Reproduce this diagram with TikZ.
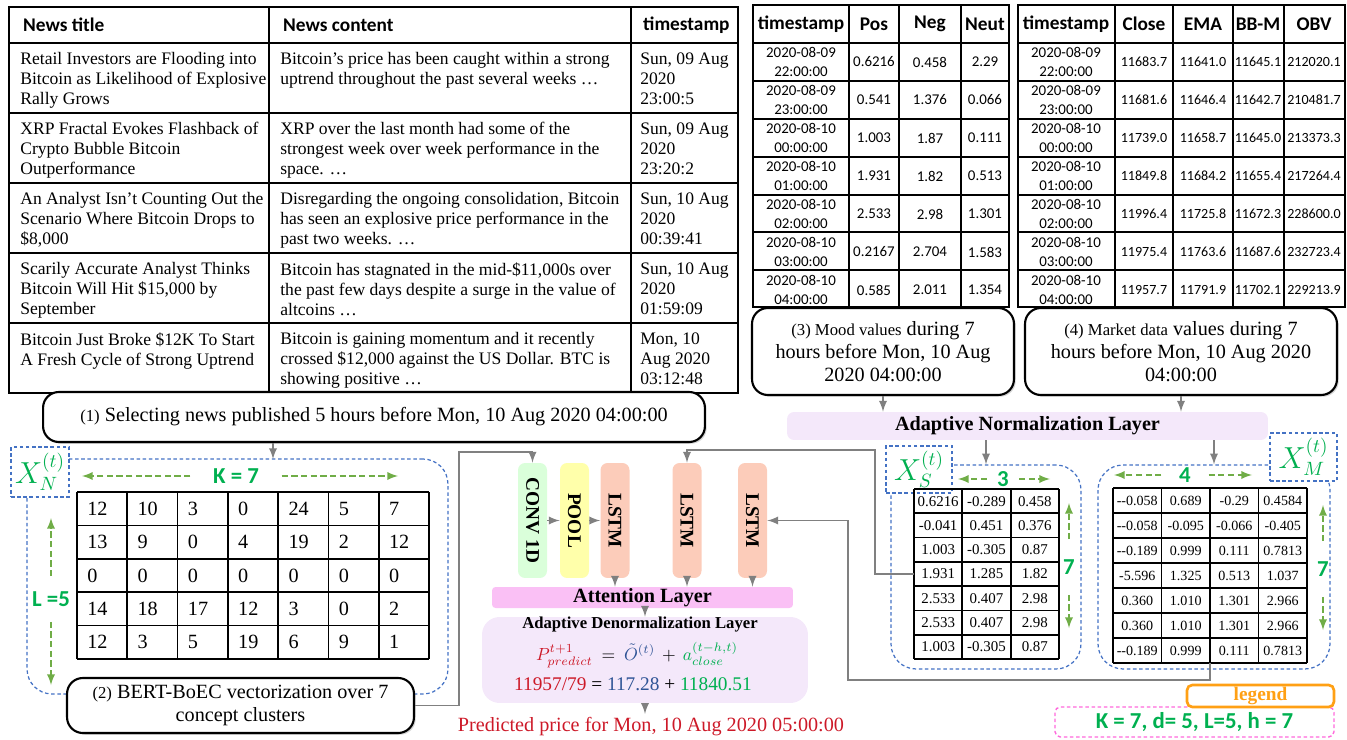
\documentclass[tikz,border=0pt]{standalone}
\usepackage{amsmath}
\usepackage{amssymb}
\usepackage{fontspec}
\setmainfont{Liberation Serif}
\setsansfont{Carlito}
\usepackage{tikz}
\usetikzlibrary{shadows}

\definecolor{gline}{RGB}{128,128,128}
\definecolor{dblue}{RGB}{68,114,196}
\definecolor{kgreen}{RGB}{0,176,80}
\definecolor{agreen}{RGB}{112,173,71}
\definecolor{convc}{RGB}{218,255,218}
\definecolor{poolc}{RGB}{255,255,170}
\definecolor{lstmc}{RGB}{252,204,186}
\definecolor{attc}{RGB}{250,192,245}
\definecolor{normc}{RGB}{244,232,250}
\definecolor{legc}{RGB}{255,160,20}
\definecolor{pinkc}{RGB}{255,105,220}
\definecolor{predred}{RGB}{205,25,40}
\definecolor{oblue}{RGB}{47,84,150}

\newcommand\newsfont{\fontsize{10}{11.4}\selectfont}
\newcommand\hdrfont{\sffamily\bfseries\fontsize{11}{13}\selectfont}
\newcommand\datafont{\sffamily\fontsize{8.5}{10.5}\selectfont}
\newcommand\msgfont{\fontsize{11.5}{13}\selectfont}
\newcommand\smallmsg{\fontsize{9.5}{11}\selectfont}
\newcommand\layerfont{\bfseries\fontsize{11.5}{13}\selectfont}
\newcommand\dimfont{\sffamily\bfseries\fontsize{13}{15}\selectfont}

\tikzset{
  rule/.style={line width=1pt},
  msg/.style={draw, line width=1.2pt, rounded corners=9pt, fill=white, align=center, inner sep=0pt, font=\msgfont,
    drop shadow={shadow xshift=1pt, shadow yshift=-1pt, opacity=0.35}},
  lyr/.style={inner sep=0pt, rounded corners=4pt},
  block/.style={lyr, minimum width=0.58cm, minimum height=2.3cm, font=\bfseries\fontsize{11}{13}\selectfont},
  conn/.style={gline, line width=1.1pt, -latex},
  dimarrow/.style={agreen, dash pattern=on 3.5pt off 2pt, line width=1.1pt, -latex},
  dimlbl/.style={text=kgreen, font=\dimfont, inner sep=0pt},
  region/.style={draw=dblue, dash pattern=on 2pt off 1.5pt, line width=0.7pt, rounded corners=0.5cm, inner sep=0pt},
  tag/.style={draw=dblue, dash pattern=on 2pt off 1.5pt, line width=0.7pt, fill=white, text=kgreen, inner sep=0pt, font=\fontsize{16}{18}\selectfont},
  newsc/.style={anchor=north west, align=left, inner sep=0pt, font=\newsfont},
  datac/.style={align=center, inner sep=0pt, font=\datafont},
  numc/.style={inner sep=0pt, font=\fontsize{8.5}{10}\selectfont},
}

\begin{document}
\begin{tikzpicture}[x=0.02cm, y=-0.02cm]
\useasboundingbox (0,0) rectangle (1347,740);

% news table
\draw[rule] (9,7) rectangle (738,393);
\foreach \y in {43,113,183,253,323} \draw[rule] (9,\y) -- (738,\y);
\foreach \x in {269,631} \draw[rule] (\x,7) -- (\x,393);
\node[anchor=west, font=\hdrfont] (htitle) at (17,25) {News title};
\node[anchor=west, font=\hdrfont] (hcontent) at (277,25) {News content};
\node[anchor=west, font=\hdrfont] (hstamp) at (637,25) {timestamp};
\foreach \y/\ti/\co/\ts [count=\i] in {
  52/{Retail Investors are Flooding into\\Bitcoin as Likelihood of Explosive\\Rally Grows}/{Bitcoin’s price has been caught within a strong\\uptrend throughout the past several weeks …}/{Sun, 09 Aug\\2020\\23:00:5},
  122/{XRP Fractal Evokes Flashback of\\Crypto Bubble Bitcoin\\Outperformance}/{XRP over the last month had some of the\\strongest week over week performance in the\\space. …}/{Sun, 09 Aug\\2020\\23:20:2},
  192/{An Analyst Isn’t Counting Out the\\Scenario Where Bitcoin Drops to\\\$8,000}/{Disregarding the ongoing consolidation, Bitcoin\\has seen an explosive price performance in the\\past two weeks. …}/{Sun, 10 Aug\\2020\\00:39:41},
  262/{Scarily Accurate Analyst Thinks\\Bitcoin Will Hit \$15,000 by\\September}/{Bitcoin has stagnated in the mid-\$11,000s over\\the past few days despite a surge in the value of\\altcoins …}/{Sun, 10 Aug\\2020\\01:59:09},
  332/{Bitcoin Just Broke \$12K To Start\\A Fresh Cycle of Strong Uptrend}/{Bitcoin is gaining momentum and it recently\\crossed \$12,000 against the US Dollar. BTC is\\showing positive …}/{Mon, 10\\Aug 2020\\03:12:48}}{
  \node[newsc] (title\i) at (20,\y) {\ti};
  \node[newsc] (content\i) at (280,\y) {\co};
  \node[newsc] (stamp\i) at (640,\y) {\ts};
}

% mood table
\draw[rule] (753,5) rectangle (1009,307);
\foreach \y in {43,81,119,157,195,232,270} \draw[rule] (753,\y) -- (1009,\y);
\foreach \x in {849,899,961} \draw[rule] (\x,5) -- (\x,307);
\node[font=\hdrfont] (mhstamp) at (801,24) {timestamp};
\node[font=\hdrfont] (mhpos) at (874,24) {Pos};
\node[font=\hdrfont] (mhneg) at (930,24) {Neg};
\node[font=\hdrfont] (mhneut) at (985,24) {Neut};
\foreach \dd/\hh/\vp/\vn/\vu [count=\i] in {09/22/0.6216/0.458/2.29, 09/23/0.541/1.376/0.066,
    10/00/1.003/1.87/0.111, 10/01/1.931/1.82/0.513, 10/02/2.533/2.98/1.301,
    10/03/0.2167/2.704/1.583, 10/04/0.585/2.011/1.354}{
  \node[datac] (mstamp\i) at (801,24+38*\i) {2020-08-\dd\\\hh:00:00};
  \node[datac] (mpos\i) at (874,24+38*\i) {\vp};
  \node[datac] (mneg\i) at (930,24+38*\i) {\vn};
  \node[datac] (mneut\i) at (985,24+38*\i) {\vu};
}

% market table
\draw[rule] (1018,5) rectangle (1345,307);
\foreach \y in {43,81,119,157,195,232,270} \draw[rule] (1018,\y) -- (1345,\y);
\foreach \x in {1115,1173,1233,1284} \draw[rule] (\x,5) -- (\x,307);
\node[font=\hdrfont] (khstamp) at (1066,24) {timestamp};
\node[font=\hdrfont] (khclose) at (1144,24) {Close};
\node[font=\hdrfont] (khema) at (1203,24) {EMA};
\node[font=\hdrfont] (khbb) at (1258,24) {BB-M};
\node[font=\hdrfont] (khobv) at (1314,24) {OBV};
\foreach \dd/\hh/\vc/\ve/\vb/\vo [count=\i] in {09/22/11683.7/11641.0/11645.1/212020.1,
    09/23/11681.6/11646.4/11642.7/210481.7, 10/00/11739.0/11658.7/11645.0/213373.3,
    10/01/11849.8/11684.2/11655.4/217264.4, 10/02/11996.4/11725.8/11672.3/228600.0,
    10/03/11975.4/11763.6/11687.6/232723.4, 10/04/11957.7/11791.9/11702.1/229213.9}{
  \node[datac] (kstamp\i) at (1066,24+38*\i) {2020-08-\dd\\\hh:00:00};
  \node[datac, font=\sffamily\fontsize{8}{10}\selectfont] (kclose\i) at (1144,24+38*\i) {\vc};
  \node[datac, font=\sffamily\fontsize{8}{10}\selectfont] (kema\i) at (1203,24+38*\i) {\ve};
  \node[datac, font=\sffamily\fontsize{8}{10}\selectfont] (kbb\i) at (1258,24+38*\i) {\vb};
  \node[datac, font=\sffamily\fontsize{8}{10}\selectfont] (kobv\i) at (1314,24+38*\i) {\vo};
}

% message boxes
\node[msg, minimum width=13.24cm, minimum height=1cm] (b1) at (374,417)
  {{\smallmsg(1)} Selecting news published 5 hours before Mon, 10 Aug 2020 04:00:00};
\node[msg, minimum width=5.24cm, minimum height=1.74cm] (b3) at (883,351.5)
  {{\smallmsg(3) Mood values} during 7\\hours before Mon, 10 Aug\\2020 04:00:00};
\node[msg, minimum width=6.24cm, minimum height=1.74cm] (b4) at (1181,351.5)
  {{\smallmsg(4) Market data} values during 7\\hours before Mon, 10 Aug 2020\\04:00:00};

% news matrix
\node[region, minimum width=8.42cm, minimum height=4.7cm] (xnr) at (237.5,576.5) {};
\node[tag, minimum width=1.16cm, minimum height=1cm] (xntag) at (40,472) {$X_N^{(t)}$};
\foreach \j in {0,...,7} \draw[rule] ({77+50.29*\j},492) -- ({77+50.29*\j},659);
\foreach \i in {0,...,5} \draw[rule] (77,{492+33.4*\i}) -- (429,{492+33.4*\i});
\foreach \row [count=\i] in {{12,10,3,0,24,5,7},{13,9,0,4,19,2,12},{0,0,0,0,0,0,0},{14,18,17,12,3,0,2},{12,3,5,19,6,9,1}}
  \foreach \val [count=\j] in \row
    \node[anchor=west, inner sep=0pt, font=\fontsize{11.5}{13}\selectfont] (xn\i\j) at ({87+50.29*(\j-1)},{492+33.4*(\i-0.5)}) {\val};
\node[dimlbl, inner xsep=0.45cm] (klab) at (236,476) {K = 7};
\coordinate (kleft) at (82,476);
\coordinate (kright) at (398,476);
\draw[dimarrow] (klab.west) -- (kleft);
\draw[dimarrow] (klab.east) -- (kright);
\node[dimlbl, inner ysep=0.3cm] (llab) at (51,599) {L =5};
\coordinate (ltop) at (51,518);
\coordinate (lbot) at (51,685);
\draw[dimarrow] (llab.north) -- (ltop);
\draw[dimarrow] (llab.south) -- (lbot);
\node[msg, minimum width=6.94cm, minimum height=1.1cm] (b2) at (240.5,705.5)
  {{\smallmsg(2)} BERT-BoEC vectorization over 7\\concept clusters};

% normalization and normalized inputs
\node[lyr, fill=normc, minimum width=9.62cm, minimum height=0.56cm, font=\layerfont] (norm) at (1027.5,426) {Adaptive Normalization Layer};
\node[region, minimum width=3.8cm, minimum height=4.08cm] (xsr) at (986,567) {};
\node[region, minimum width=4.64cm, minimum height=4.08cm] (xmr) at (1214,567) {};
\node[tag, minimum width=1.32cm, minimum height=0.94cm] (xstag) at (919,469.5) {$X_S^{(t)}$};
\node[tag, minimum width=1.34cm, minimum height=0.96cm] (xmtag) at (1303.5,457) {$X_M^{(t)}$};

\foreach \j in {0,...,3} \draw[rule] ({914+48.33*\j},489) -- ({914+48.33*\j},659);
\foreach \i in {0,...,7} \draw[rule] (914,{489+24.29*\i}) -- (1059,{489+24.29*\i});
\foreach \row [count=\i] in {{0.6216,-0.289,0.458},{-0.041,0.451,0.376},{1.003,-0.305,0.87},{1.931,1.285,1.82},
    {2.533,0.407,2.98},{2.533,0.407,2.98},{1.003,-0.305,0.87}}
  \foreach \val [count=\j] in \row
    \node[numc] (xs\i\j) at ({914+48.33*(\j-0.5)},{489+24.29*(\i-0.5)}) {\val};
\node[dimlbl, inner xsep=0.2cm] (slab) at (1003,479) {3};
\coordinate (sleft) at (958,479);
\coordinate (sright) at (1050,479);
\draw[dimarrow] (slab.west) -- (sleft);
\draw[dimarrow] (slab.east) -- (sright);
\node[dimlbl, inner ysep=0.4cm] (svlab) at (1069,567) {7};
\coordinate (stop) at (1069,503);
\coordinate (sbot) at (1069,628);
\draw[dimarrow] (svlab.north) -- (stop);
\draw[dimarrow] (svlab.south) -- (sbot);

\foreach \j in {0,...,4} \draw[rule] ({1113+48.5*\j},488) -- ({1113+48.5*\j},663);
\foreach \i in {0,...,7} \draw[rule] (1113,{488+25*\i}) -- (1307,{488+25*\i});
\foreach \row [count=\i] in {{-{}-0.058,0.689,-0.29,0.4584},{-{}-0.058,-0.095,-0.066,-0.405},{-{}-0.189,0.999,0.111,0.7813},
    {-5.596,1.325,0.513,1.037},{0.360,1.010,1.301,2.966},{0.360,1.010,1.301,2.966},{-{}-0.189,0.999,0.111,0.7813}}
  \foreach \val [count=\j] in \row
    \node[numc, font=\fontsize{8}{10}\selectfont] (xm\i\j) at ({1113+48.5*(\j-0.5)},{488+25*(\i-0.5)}) {\val};
\node[dimlbl, inner xsep=0.35cm] (mlab) at (1185,475) {4};
\coordinate (mleft) at (1114,475);
\coordinate (mright) at (1252,475);
\draw[dimarrow] (mlab.west) -- (mleft);
\draw[dimarrow] (mlab.east) -- (mright);
\node[dimlbl, inner ysep=0.4cm] (mvlab) at (1323,569) {7};
\coordinate (mtop) at (1323,505);
\coordinate (mbot) at (1323,630);
\draw[dimarrow] (mvlab.north) -- (mtop);
\draw[dimarrow] (mvlab.south) -- (mbot);

% network
\node[block, fill=convc] (conv) at (532.5,520.5) {\rotatebox{-90}{CONV 1D}};
\node[block, fill=poolc] (pool) at (574.5,520.5) {\rotatebox{-90}{POOL}};
\node[block, fill=lstmc] (lstm1) at (615,520.5) {\rotatebox{-90}{LSTM}};
\node[block, fill=lstmc] (lstm2) at (687,520.5) {\rotatebox{-90}{LSTM}};
\node[block, fill=lstmc] (lstm3) at (752.5,520.5) {\rotatebox{-90}{LSTM}};
\node[lyr, fill=attc, rounded corners=2pt, minimum width=6.02cm, minimum height=0.42cm, font=\layerfont] (att) at (642.5,597.5) {Attention Layer};
\node[lyr, fill=normc, rounded corners=10pt, minimum width=6.52cm, minimum height=1.72cm] (denorm) at (645,660) {};
\node[inner sep=0pt, font=\bfseries\fontsize{9.5}{11}\selectfont] (dntitle) at (640,625) {Adaptive Denormalization Layer};
\node[inner sep=0pt, font=\fontsize{10}{12}\selectfont] (dnform) at (637,655)
  {\textcolor{predred}{$P^{t+1}_{predict}$}\hspace{5pt}$=$\hspace{5pt}\textcolor{oblue}{$\tilde{O}^{(t)}$}\hspace{4pt}$+$\hspace{4pt}\textcolor{kgreen}{$a^{(t-h,t)}_{close}$}};
\node[inner sep=0pt, font=\fontsize{11}{13}\selectfont] (dnnum) at (633,684)
  {\textcolor{predred}{11957/79} = \textcolor{oblue}{117.28} + \textcolor{kgreen}{11840.51}};
\node[inner sep=2pt, text=predred, font=\fontsize{11.5}{13}\selectfont] (pred) at (651,727) {Predicted price for Mon, 10 Aug 2020 05:00:00};

% legend
\node[draw=pinkc, dash pattern=on 2pt off 1.5pt, line width=0.8pt, rounded corners=3pt, minimum width=5.58cm, minimum height=0.6cm,
  inner sep=0pt, text=kgreen, font=\dimfont] (legbox) at (1194.5,722) {K = 7, d= 5, L=5, h = 7};
\node[draw=legc, fill=white, line width=1.5pt, rounded corners=3pt, minimum width=2.94cm, minimum height=0.44cm,
  inner sep=0pt, text=legc, font=\bfseries\fontsize{11}{13}\selectfont] (legend) at (1260.5,696) {legend};

% connectors
\coordinate (xnin) at (273,459);
\coordinate (cin) at (459,452);
\coordinate (sin) at (875,450);
\coordinate (xsrow) at (914,574);
\coordinate (xmbot) at (1210,663);
\coordinate (min) at (848,680);
\draw[conn] (b1.south -| xnin) -- (xnin);
\draw[conn] (b2.east) -| (cin) -| (conv.north);
\draw[conn] (xsrow) -| (sin) -| (lstm2.north);
\draw[conn] (xmbot) |- (min) |- (lstm3.east);
\draw[conn] (b3.south) -- (b3.south |- norm.north);
\draw[conn] (b4.south) -- (b4.south |- norm.north);
\draw[conn] (norm.south -| xsr.north) -- (xsr.north);
\draw[conn] (norm.south -| xmr.north) -- (xmr.north);
\draw[conn] (conv.east) -- (pool.west);
\draw[conn] (pool.east) -- (lstm1.west);
\draw[conn] (lstm1.south) -- (lstm1.south |- att.north);
\draw[conn] (lstm2.south) -- (lstm2.south |- att.north);
\draw[conn] (lstm3.south) -- (lstm3.south |- att.north);
\draw[conn] (att.south -| denorm.north) -- (denorm.north);
\draw[conn] (denorm.south) -- (denorm.south |- pred.north);
\end{tikzpicture}
\end{document}
